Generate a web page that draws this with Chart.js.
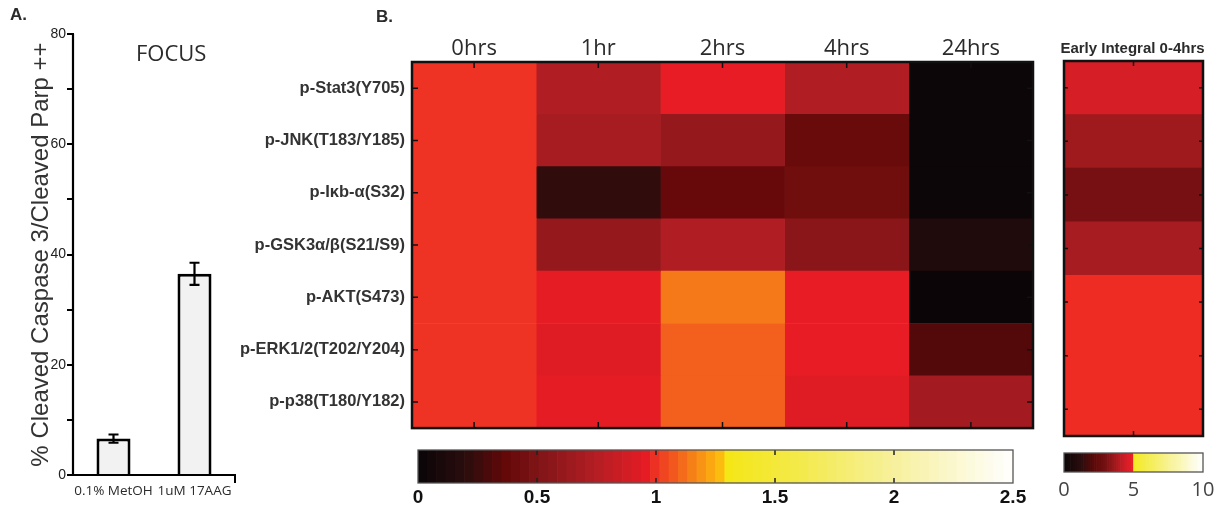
<!DOCTYPE html>
<html>
<head>
<meta charset="utf-8">
<script src="https://cdn.jsdelivr.net/npm/chart.js@4.4.1/dist/chart.umd.min.js"></script>
<style>
  body { margin: 0; background: #fff; width: 1225px; height: 510px; position: relative; overflow: hidden; }
  canvas { position: absolute; }
  .lbl { position: absolute; color: #2b2b2b; white-space: nowrap; }
  #panelA { left: 0; top: 0; }
  #heat { left: 200px; top: 0; }
  #cbar { left: 400px; top: 440px; }
  #integral { left: 1040px; top: 0; }
  #cbarSmall { left: 1040px; top: 445px; }
</style>
</head>
<body>
<canvas id="panelA" width="260" height="510"></canvas>
<canvas id="heat" width="840" height="445"></canvas>
<canvas id="cbar" width="640" height="70"></canvas>
<canvas id="integral" width="185" height="445"></canvas>
<canvas id="cbarSmall" width="185" height="65"></canvas>

<div class="lbl" style="left:10px; top:5px; font: bold 17px 'Liberation Sans', Arial, sans-serif;">A.</div>
<div class="lbl" style="left:376px; top:7px; font: bold 17px 'Liberation Sans', Arial, sans-serif;">B.</div>
<div class="lbl" style="left:136px; top:37px; font: 22px 'Open Sans', sans-serif;">FOCUS</div>
<div class="lbl" style="left:1040px; top:39px; width:185px; text-align:center; font: bold 15px 'Liberation Sans', Arial, sans-serif;">Early Integral 0-4hrs</div>

<script>
// panel A: apoptosis bars
const treatLabels = ["0.1% MetOH", "1uM 17AAG"];
const cleavedPct = [6.6, 36.5];
const cleavedErr = [0.75, 2.0];

// panel B: fold change per phospho-site, one array per time point
const siteLabels = ["p-Stat3(Y705)", "p-JNK(T183/Y185)", "p-Iκb-α(S32)", "p-GSK3α/β(S21/S9)",
                    "p-AKT(S473)", "p-ERK1/2(T202/Y204)", "p-p38(T180/Y182)"];
const timeLabels = ["0hrs", "1hr", "2hrs", "4hrs", "24hrs"];
const fold0h  = [1.0, 1.0, 1.0, 1.0, 1.0, 1.0, 1.0];
const fold1h  = [0.73, 0.69, 0.22, 0.60, 0.96, 0.93, 0.96];
const fold2h  = [0.965, 0.60, 0.385, 0.73, 1.14, 1.087, 1.087];
const fold4h  = [0.73, 0.40, 0.43, 0.56, 0.97, 0.97, 0.93];
const fold24h = [0.02, 0.02, 0.02, 0.14, 0.01, 0.32, 0.67];
const earlyIntegral = [4.5, 3.64, 3.0, 3.78, 4.98, 4.98, 4.98];

// colorbar ranges and ticks
const foldRange = [0, 2.5];
const foldTicks = [0, 0.5, 1, 1.5, 2, 2.5];
const integralRange = [0, 10];
const integralTicks = [0, 5, 10];

const foldStops = [[0, "#0a0507"], [0.2, "#2a0d0e"], [0.37, "#640808"], [0.5, "#7e1416"],
  [0.75, "#b41e24"], [0.97, "#e81c24"], [1.0, "#ee3324"], [1.28, "#fdc00e"], [1.285, "#f5e614"],
  [1.6, "#f3ea4a"], [2.0, "#f7f09c"], [2.5, "#ffffff"]];
const integralStops = [[0, "#0a0507"], [1.2, "#2a0d0e"], [2.2, "#5c0a0a"], [3.0, "#761012"],
  [3.8, "#a81c20"], [4.6, "#dc1e28"], [4.9, "#e81c24"], [5.0, "#f03024"], [5.001, "#f3ea20"],
  [7, "#f6f07a"], [10, "#ffffff"]];

const SANS = "'Liberation Sans', Arial, sans-serif";
const OPEN = "'Open Sans', sans-serif";
const TEXT = "#2b2b2b";
const CLEAR = "rgba(0,0,0,0)";

function hex(c) { return [1, 3, 5].map(i => parseInt(c.slice(i, i + 2), 16)); }

function colorAt(stops, v) {
  if (v <= stops[0][0]) return stops[0][1];
  for (let i = 1; i < stops.length; i++) {
    if (v <= stops[i][0]) {
      const [v0, c0] = stops[i - 1], [v1, c1] = stops[i];
      const t = (v - v0) / (v1 - v0);
      const a = hex(c0), b = hex(c1);
      const m = a.map((x, k) => Math.round(x + (b[k] - x) * t));
      return `rgb(${m[0]},${m[1]},${m[2]})`;
    }
  }
  return stops[stops.length - 1][1];
}

// frame + inward tick marks, MATLAB style
const innerTicks = {
  id: "innerTicks",
  afterDatasetsDraw(chart, args, opts) {
    if (!opts.sides) return;
    const { ctx, chartArea: a } = chart;
    ctx.save();
    ctx.strokeStyle = opts.tickColor || "#111";
    ctx.lineWidth = opts.tickWidth || 1.5;
    ctx.beginPath();
    for (const side of opts.sides) {
      const s = chart.scales[side.scale];
      const len = side.len || 6;
      for (const v of side.values) {
        const p = s.getPixelForValue(v);
        if (side.at === "top") { ctx.moveTo(p, a.top); ctx.lineTo(p, a.top + len); }
        if (side.at === "bottom") { ctx.moveTo(p, a.bottom); ctx.lineTo(p, a.bottom - len); }
        if (side.at === "left") { ctx.moveTo(a.left, p); ctx.lineTo(a.left + len, p); }
        if (side.at === "right") { ctx.moveTo(a.right, p); ctx.lineTo(a.right - len, p); }
      }
    }
    ctx.stroke();
    ctx.strokeStyle = opts.frameColor || "#111";
    ctx.lineWidth = opts.frameWidth || 2;
    ctx.strokeRect(a.left, a.top, a.width, a.height);
    ctx.restore();
  }
};

// error bars on top of panel A bars, plus the value axis spine
const errorBars = {
  id: "errorBars",
  afterDatasetsDraw(chart, args, opts) {
    if (!opts.errors) return;
    const { ctx } = chart;
    const y = chart.scales.y;
    const meta = chart.getDatasetMeta(0);
    ctx.save();
    ctx.strokeStyle = "#000";
    ctx.lineWidth = 2.2;
    ctx.beginPath();
    ctx.moveTo(y.right, y.top);
    ctx.lineTo(y.right, y.bottom + 1);
    meta.data.forEach((bar, i) => {
      const v = chart.data.datasets[0].data[i], e = opts.errors[i];
      const top = y.getPixelForValue(v + e), bot = y.getPixelForValue(v - e);
      ctx.moveTo(bar.x, top); ctx.lineTo(bar.x, bot);
      ctx.moveTo(bar.x - 5, top); ctx.lineTo(bar.x + 5, top);
      ctx.moveTo(bar.x - 5, bot); ctx.lineTo(bar.x + 5, bot);
    });
    ctx.stroke();
    ctx.restore();
  }
};

Chart.register(innerTicks, errorBars);
Chart.defaults.animation = false;
Chart.defaults.responsive = false;
Chart.defaults.plugins.legend.display = false;
Chart.defaults.plugins.tooltip.enabled = false;

const noGrid = { display: false, drawTicks: false };
const noBorder = { display: false };

new Chart(document.getElementById("panelA"), {
  type: "bar",
  data: {
    labels: treatLabels,
    datasets: [{
      data: cleavedPct,
      backgroundColor: "#f2f2f2",
      borderColor: "#000",
      borderWidth: 3,
      barPercentage: 0.42,
      categoryPercentage: 1
    }]
  },
  options: {
    layout: { padding: { top: 34, right: 25 } },
    plugins: { errorBars: { errors: cleavedErr } },
    scales: {
      x: {
        // only the far end of the category axis gets a tick
        grid: {
          offset: true, drawOnChartArea: false, tickLength: 8, lineWidth: 2,
          color: c => c.type === "scale" ? "#000" : CLEAR
        },
        border: { display: true, color: "#000", width: 2 },
        ticks: { font: { family: OPEN, size: 13.5 }, color: TEXT, padding: 0, maxRotation: 0, autoSkip: false },
        afterFit: ax => { ax.height = 35; }
      },
      y: {
        min: 0, max: 80,
        ticks: {
          stepSize: 10, padding: 1, color: "#222",
          font: { family: SANS, size: 14 },
          callback: v => v % 20 === 0 ? v : ""
        },
        grid: { drawOnChartArea: false, tickLength: 6, color: "#000", lineWidth: 2 },
        border: { display: true, color: "#000", width: 2 },
        title: {
          display: true, text: "% Cleaved Caspase 3/Cleaved Parp ++",
          font: { family: SANS, size: 24 }, color: "#333", padding: { top: 27, bottom: 0 }
        },
        afterFit: ax => { ax.width = 73; }
      }
    }
  }
});

const foldColumns = [fold0h, fold1h, fold2h, fold4h, fold24h];
const rowIdx = siteLabels.map((_, i) => i);

new Chart(document.getElementById("heat"), {
  type: "bar",
  data: {
    labels: siteLabels,
    datasets: foldColumns.map((col, i) => ({
      label: timeLabels[i],
      data: col.map(() => 1),
      backgroundColor: col.map(v => colorAt(foldStops, v)),
      borderWidth: 0,
      barPercentage: 1,
      categoryPercentage: 1
    }))
  },
  options: {
    indexAxis: "y",
    layout: { padding: { right: 7, bottom: 9 } },
    plugins: {
      innerTicks: {
        sides: [
          { scale: "x", at: "top", values: timeLabels.map((_, i) => i + 0.5) },
          { scale: "x", at: "bottom", values: timeLabels.map((_, i) => i + 0.5) },
          { scale: "y", at: "left", values: rowIdx },
          { scale: "y", at: "right", values: rowIdx }
        ],
        frameWidth: 2.5
      }
    },
    scales: {
      x: {
        type: "linear", position: "top", stacked: true, offset: false,
        min: 0, max: timeLabels.length,
        afterBuildTicks: ax => { ax.ticks = timeLabels.map((_, i) => ({ value: i + 0.5 })); },
        ticks: {
          callback: (v, i) => timeLabels[i], autoSkip: false, maxRotation: 0,
          font: { family: OPEN, size: 22 }, color: TEXT, padding: 0
        },
        grid: noGrid, border: noBorder,
        afterFit: ax => { ax.height = 62; }
      },
      y: {
        stacked: true,
        ticks: { font: { family: SANS, size: 16.5, weight: "bold" }, color: "#333", padding: 7 },
        grid: noGrid, border: noBorder,
        afterFit: ax => { ax.width = 212; }
      }
    }
  }
});

new Chart(document.getElementById("integral"), {
  type: "bar",
  data: {
    labels: siteLabels,
    datasets: [{
      data: earlyIntegral.map(() => 1),
      backgroundColor: earlyIntegral.map(v => colorAt(integralStops, v)),
      borderWidth: 0,
      barPercentage: 1,
      categoryPercentage: 1
    }]
  },
  options: {
    indexAxis: "y",
    layout: { padding: { left: 24, right: 22, top: 61, bottom: 9 } },
    plugins: {
      innerTicks: {
        sides: [
          { scale: "x", at: "top", values: [0.5], len: 5 },
          { scale: "x", at: "bottom", values: [0.5], len: 5 },
          { scale: "y", at: "left", values: rowIdx, len: 4 },
          { scale: "y", at: "right", values: rowIdx, len: 4 }
        ],
        frameWidth: 2.5
      }
    },
    scales: {
      x: { type: "linear", min: 0, max: 1, offset: false, display: false },
      y: { display: false }
    }
  }
});

function makeColorbar(canvasId, range, ticks, stops, opts) {
  const bands = 64;
  const step = (range[1] - range[0]) / bands;
  const mids = [];
  for (let k = 0; k < bands; k++) mids.push(range[0] + (k + 0.5) * step);
  const inner = ticks.slice(1, -1);
  return new Chart(document.getElementById(canvasId), {
    type: "bar",
    data: {
      labels: mids,
      datasets: [{
        data: mids.map(() => 1),
        backgroundColor: mids.map(v => colorAt(stops, v)),
        borderWidth: 0,
        barPercentage: 1,
        categoryPercentage: 1
      }]
    },
    options: {
      layout: { padding: opts.padding },
      plugins: {
        innerTicks: {
          sides: opts.innerTicks ? [
            { scale: "t", at: "top", values: inner, len: 5 },
            { scale: "t", at: "bottom", values: inner, len: 5 }
          ] : [],
          tickColor: "#222", tickWidth: 1.5,
          frameColor: "#555", frameWidth: 1.3
        }
      },
      scales: {
        x: { display: false },
        y: { display: false, min: 0, max: 1 },
        t: {
          type: "linear", axis: "x", position: "bottom", offset: false,
          min: range[0], max: range[1],
          afterBuildTicks: ax => { ax.ticks = ticks.map(v => ({ value: v })); },
          ticks: {
            callback: v => String(v),
            font: opts.font, color: opts.color, padding: opts.tickPad, autoSkip: false, maxRotation: 0
          },
          grid: noGrid, border: noBorder,
          afterFit: ax => { ax.height = opts.axisHeight; }
        }
      }
    }
  });
}

makeColorbar("cbar", foldRange, foldTicks, foldStops, {
  padding: { left: 18, right: 27, top: 10 },
  font: { family: SANS, size: 19, weight: "bold" }, color: "#111",
  tickPad: 3, axisHeight: 27, innerTicks: true
});

makeColorbar("cbarSmall", integralRange, integralTicks, integralStops, {
  padding: { left: 24, right: 22, top: 8 },
  font: { family: OPEN, size: 20 }, color: "#444",
  tickPad: 6, axisHeight: 38, innerTicks: false
});
</script>
</body>
</html>
